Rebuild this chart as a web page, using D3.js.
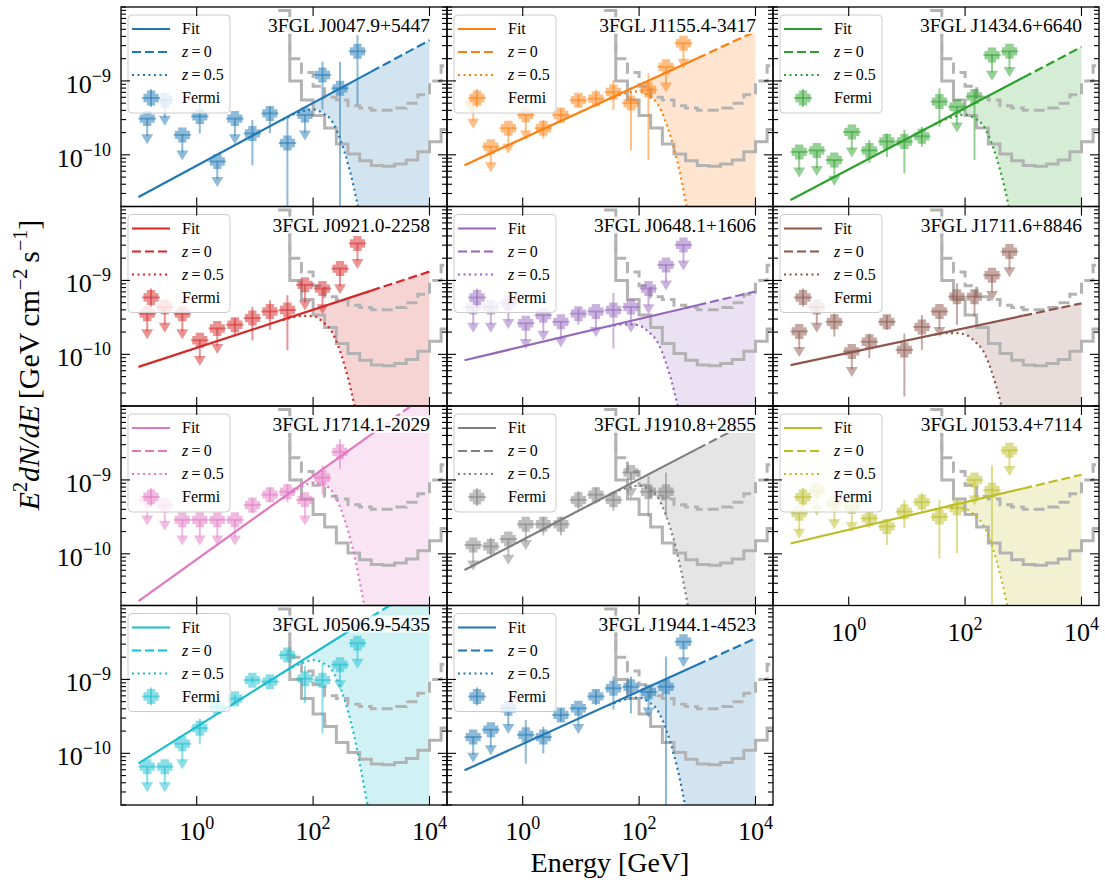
<!DOCTYPE html>
<html>
<head>
<meta charset="utf-8">
<script src="https://cdn.jsdelivr.net/npm/d3@7"></script>
<style>
    body { margin: 0; background: #fff; }
    text { font-family: "Liberation Serif", "Times New Roman", serif; }
</style>
</head>
<body>
<svg width="1105" height="886"></svg>
<script>
(function () {
    // ---- data ----
    const sourceNames = ['3FGL J0047.9+5447', '3FGL J1155.4-3417', '3FGL J1434.6+6640',
        '3FGL J0921.0-2258', '3FGL J0648.1+1606', '3FGL J1711.6+8846',
        '3FGL J1714.1-2029', '3FGL J1910.8+2855', '3FGL J0153.4+7114',
        '3FGL J0506.9-5435', '3FGL J1944.1-4523'];
    const sourceColors = ['#1f77b4', '#ff7f0e', '#2ca02c', '#d62728', '#9467bd', '#8c564b',
        '#e377c2', '#7f7f7f', '#bcbd22', '#17becf', '#1f77b4'];

    // power-law fit: log10(E^2 dN/dE) at 0.1 GeV and slope per decade
    const fitLogNorm = [-10.57, -10.14, -10.61, -10.17, -10.08, -10.145, -10.64, -10.22, -9.86, -10.135, -10.23];
    const fitSlope = [0.424, 0.362, 0.414, 0.258, 0.186, 0.167, 0.564, 0.41, 0.186, 0.495, 0.357];

    // Fermi-LAT bins (GeV)
    const fermiEnergy = [0.141, 0.283, 0.566, 1.13, 2.26, 4.53, 9.05, 18.1, 36.2, 72.4, 145, 290, 579];
    const fermiLogFlux = [
        [-9.51, -9.26, -9.73, -9.48, -10.09, -9.51, -9.71, -9.44, -9.84, -9.46, -8.92, -9.10, -8.60],
        [-9.30, -9.89, -9.64, -9.46, -9.64, -9.46, -9.26, -9.24, -9.15, -9.30, -9.12, -8.81, -8.49],
        [-9.96, -9.94, -10.07, -9.69, -9.94, -9.82, -9.82, -9.75, -9.28, -9.35, -9.21, -8.65, -8.60],
        [-9.45, -9.36, -9.45, -9.81, -9.65, -9.60, -9.51, -9.42, -9.40, -9.06, -9.11, -8.84, -8.50],
        [-9.36, -9.36, -9.31, -9.58, -9.47, -9.56, -9.45, -9.42, -9.40, -9.36, -9.11, -8.79, -8.52],
        [-9.69, -9.36, -9.56, -9.96, -9.83, -9.56, -9.94, -9.63, -9.42, -9.22, -9.22, -8.93, -8.61],
        [-9.27, -9.34, -9.54, -9.54, -9.54, -9.54, -9.34, -9.20, -9.16, -9.27, -8.97, -8.62, null],
        [-9.88, -9.90, -9.80, -9.60, -9.60, -9.60, -9.27, -9.20, -9.27, -8.90, -9.16, -9.16, null],
        [-9.45, -9.14, -9.32, -9.36, -9.52, -9.63, -9.43, -9.30, -9.50, -9.38, -9.00, -9.14, -8.60],
        [-10.18, -10.18, -9.87, -9.66, -9.37, -9.26, -9.01, -9.03, -8.67, -8.99, -9.01, -8.80, -8.51],
        [-9.78, -9.68, -9.39, -9.75, -9.78, -9.48, -9.39, -9.23, -9.12, -9.10, -9.17, -9.10, -8.49]
    ];
    // 1 = upper limit
    const fermiUpper = [
        [1, 1, 1, 0, 1, 1, 0, 0, 0, 1, 0, 0, 0],
        [1, 1, 1, 1, 0, 0, 0, 0, 0, 0, 0, 1, 1],
        [1, 1, 1, 1, 0, 0, 0, 0, 0, 1, 0, 1, 1],
        [1, 1, 1, 1, 1, 0, 0, 0, 0, 1, 1, 1, 1],
        [1, 1, 1, 1, 1, 1, 0, 1, 0, 1, 1, 1, 1],
        [1, 1, 0, 1, 0, 0, 0, 0, 1, 0, 0, 1, 1],
        [1, 1, 1, 1, 1, 1, 0, 0, 0, 1, 0, 0, 0],
        [1, 0, 1, 1, 0, 0, 0, 0, 0, 1, 0, 0, 0],
        [1, 1, 1, 1, 0, 0, 0, 0, 0, 0, 1, 0, 1],
        [1, 1, 1, 0, 0, 0, 0, 0, 0, 0, 0, 1, 1],
        [1, 1, 1, 0, 0, 0, 1, 0, 0, 0, 1, 0, 1]
    ];
    const fermiErrHigh = [
        [null, null, null, -9.26, null, null, -9.53, -9.35, -9.50, null, -8.74, -8.74, -8.38],
        [null, null, null, null, -9.53, -9.37, -9.19, -9.12, -8.99, -9.08, -8.90, null, null],
        [null, null, null, null, -9.80, -9.71, -9.66, -9.62, -9.10, null, -9.12, null, null],
        [null, null, null, null, null, -9.51, -9.36, -9.27, -9.20, null, null, null, null],
        [null, null, null, null, null, null, -9.38, null, -9.17, null, null, null, null],
        [null, null, -9.45, null, -9.72, -9.47, -9.72, -9.47, null, -9.04, -9.13, null, null],
        [null, null, null, null, null, null, -9.25, -9.10, -9.05, null, -8.80, -8.45, null],
        [null, -9.78, null, null, -9.50, -9.50, -9.15, -9.10, -9.15, null, -8.95, -8.90, null],
        [null, null, null, null, -9.41, -9.54, -9.27, -9.18, -9.27, -9.25, null, -8.80, null],
        [null, null, null, -9.53, -9.32, -9.21, -8.97, -8.98, -8.60, -8.82, -8.78, null, null],
        [null, null, null, -9.55, -9.64, -9.39, null, -9.14, -8.96, -8.96, null, -8.69, null]
    ];
    const fermiErrLow = [
        [null, null, null, -9.71, null, null, -10.14, -9.71, -11.5, null, -9.39, -11.5, -9.32],
        [null, null, null, null, -9.78, -9.57, -9.35, -9.35, -9.39, -9.94, -10.07, null, null],
        [null, null, null, null, -10.11, -10.03, -10.25, -9.89, -9.62, null, -10.07, null, null],
        [null, null, null, null, null, -9.76, -9.81, -9.67, -9.94, null, null, null, null],
        [null, null, null, null, null, null, -9.60, null, -9.92, null, null, null, null],
        [null, null, -9.76, null, -10.05, -9.67, -10.57, -9.94, null, -9.60, -9.49, null, null],
        [null, null, null, null, null, null, -9.45, -9.30, -9.30, null, -9.20, -8.85, null],
        [null, -10.05, null, null, -9.75, -9.75, -9.40, -9.32, -9.42, null, -9.50, -9.50, null],
        [null, null, null, null, -9.65, -9.88, -9.65, -9.43, -10.06, -9.99, null, -11.5, null],
        [null, null, null, -9.87, -9.42, -9.31, -9.05, -9.08, -8.74, -9.32, -9.73, null, null],
        [null, null, null, -10.14, -10.0, -9.57, null, -9.35, -9.41, -9.46, null, -11.5, null]
    ];

    // EBL optical depth for z = 0.5
    const tauEnergy = [30, 50, 70, 100, 150, 200, 300, 400, 500, 700, 1000, 2000, 5000, 10000];
    const tauValue = [0.01, 0.04, 0.1, 0.2, 0.5, 0.8, 1.65, 2.5, 3.3, 4.8, 6.5, 10, 20, 30];

    // sensitivity curves (step per bin, bins start at these edges)
    const sensEdges = [25.1, 39.8, 63.1, 100, 158, 251, 398, 631, 1000, 1585, 2512, 3981, 6310, 10000, 15849, 25119];
    const sensSolid = [9e-9, 1.0e-9, 5.5e-10, 3.4e-10, 2.3e-10, 1.4e-10, 1.03e-10, 8.3e-11, 7.2e-11,
        7.0e-11, 7.5e-11, 8.5e-11, 1.1e-10, 1.5e-10, 2.2e-10];
    const sensDashed = [null, 2.0e-9, 1.3e-9, 8.5e-10, 6e-10, 5.5e-10, 4.6e-10, 4.3e-10, 4.0e-10,
        4.0e-10, 4.3e-10, 5e-10, 6.5e-10, 1.0e-9, 1.6e-9];
    const sensDashedStart = 5.5e-9;

    const xTickValues = [1, 100, 10000];
    const xTickLabels = ['0', '2', '4'];
    const yTickValues = [1e-10, 1e-9];
    const yTickLabels = ['\u221210', '\u22129'];

    // ---- layout ----
    const left = 121, right = 1099, top = 7, bottom = 805;
    const panelW = (right - left) / 3;
    const panelH = (bottom - top) / 4;

    const svg = d3.select('svg');

    const x = d3.scaleLog().domain([0.05, 2e4]).range([0, panelW]);
    const y = d3.scaleLog().domain([2e-11, 1e-8]).range([panelH, 0]);

    const fitAt = (i, e) => Math.pow(10, fitLogNorm[i] + fitSlope[i] * (Math.log10(e) + 1));
    const tauAt = k => Math.exp(-tauValue[k]);

    const line = d3.line().x(d => x(d[0])).y(d => y(d[1]));

    const plusPath = s => {
        const a = s / 6;
        return `M${-a},${-3 * a}L${-a},${-a}L${-3 * a},${-a}L${-3 * a},${a}L${-a},${a}L${-a},${3 * a}` +
            `L${a},${3 * a}L${a},${a}L${3 * a},${a}L${3 * a},${-a}L${a},${-a}L${a},${-3 * a}Z`;
    };

    const drawMarker = (g, cx, cy, color) => {
        g.append('path')
            .attr('d', plusPath(10))
            .attr('transform', `translate(${cx},${cy})`)
            .attr('fill', color)
            .attr('stroke', color)
            .attr('stroke-width', 5)
            .attr('stroke-linejoin', 'miter')
            .attr('opacity', 0.5);
    };

    const errLine = (g, x1, y1, x2, y2, color) => {
        g.append('line')
            .attr('x1', x1).attr('y1', y1).attr('x2', x2).attr('y2', y2)
            .attr('stroke', color)
            .attr('stroke-width', 2)
            .attr('opacity', 0.5);
    };

    const stepPts = vals => {
        const pts = vals.map((v, k) => [sensEdges[k], v]);
        pts.push([sensEdges[vals.length], vals[vals.length - 1]]);
        return pts.filter(d => d[1] !== null);
    };
    const solidPts = stepPts(sensSolid);
    const dashedPts = stepPts(sensDashed);
    dashedPts.unshift([dashedPts[0][0], sensDashedStart]);

    const stepLine = d3.line()
            .x(d => x(d[0])).y(d => y(d[1]))
            .curve(d3.curveStepAfter);

    sourceNames.forEach((name, i) => {
        const col = i % 3, row = Math.floor(i / 3);
        const color = sourceColors[i];
        const g = svg.append('g')
                .attr('transform', `translate(${left + col * panelW},${top + row * panelH})`);

        g.append('clipPath').attr('id', 'clip' + i)
            .append('rect')
            .attr('width', panelW)
            .attr('height', panelH);
        const inner = g.append('g').attr('clip-path', `url(#clip${i})`);

        // shaded band between z=0 and z=0.5 above 100 GeV
        const bandIdx = tauEnergy.map((e, k) => k).filter(k => tauEnergy[k] >= 100);
        inner.append('path')
            .datum(bandIdx)
            .attr('d', d3.area()
                    .x(k => x(tauEnergy[k]))
                    .y0(k => Math.min(panelH + 50, y(fitAt(i, tauEnergy[k]) * tauAt(k))))
                    .y1(k => y(fitAt(i, tauEnergy[k])))
                    .curve(d3.curveMonotoneX))
            .attr('fill', color)
            .attr('fill-opacity', 0.2);

        // sensitivity steps
        inner.append('path')
            .attr('d', stepLine(solidPts))
            .attr('fill', 'none')
            .attr('stroke', '#b3b3b3')
            .attr('stroke-width', 3);
        inner.append('path')
            .attr('d', stepLine(dashedPts))
            .attr('fill', 'none')
            .attr('stroke', '#b3b3b3')
            .attr('stroke-width', 3)
            .attr('stroke-dasharray', '11,5');

        // fit lines
        inner.append('path')
            .attr('d', line([[1000, fitAt(i, 1000)], [10000, fitAt(i, 10000)]]))
            .attr('fill', 'none')
            .attr('stroke', color)
            .attr('stroke-width', 2.2)
            .attr('stroke-dasharray', '9,4');
        inner.append('path')
            .attr('d', line([[0.1, fitAt(i, 0.1)], [1000, fitAt(i, 1000)]]))
            .attr('fill', 'none')
            .attr('stroke', color)
            .attr('stroke-width', 2.2);
        inner.append('path')
            .attr('d', d3.line()
                    .x(k => x(tauEnergy[k]))
                    .y(k => y(fitAt(i, tauEnergy[k]) * tauAt(k)))
                    .curve(d3.curveMonotoneX)(tauEnergy.map((e, k) => k)))
            .attr('fill', 'none')
            .attr('stroke', color)
            .attr('stroke-width', 2.2)
            .attr('stroke-dasharray', '2,3.5');

        // Fermi points
        const pts = inner.append('g');
        fermiEnergy.forEach((e, k) => {
            const lf = fermiLogFlux[i][k];
            if (lf === null) {
                return;
            }
            const cx = x(e), cy = y(Math.pow(10, lf));
            errLine(pts, x(e / Math.SQRT2), cy, x(e * Math.SQRT2), cy, color);
            if (fermiUpper[i][k]) {
                const tip = y(Math.pow(10, lf) * 0.45);
                errLine(pts, cx, cy, cx, tip - 8, color);
                pts.append('path')
                    .attr('d', `M${cx - 6},${tip - 10}L${cx + 6},${tip - 10}L${cx},${tip}Z`)
                    .attr('fill', color)
                    .attr('opacity', 0.5);
            } else {
                errLine(pts, cx, y(Math.pow(10, fermiErrHigh[i][k])),
                        cx, y(Math.pow(10, fermiErrLow[i][k])), color);
            }
            drawMarker(pts, cx, cy, color);
        });

        // title
        const title = g.append('text')
                .attr('x', panelW - 17)
                .attr('y', 25)
                .attr('text-anchor', 'end')
                .attr('font-size', 19.5)
                .text(name);
        const bb = title.node().getBBox();
        g.insert('rect', () => title.node())
            .attr('x', bb.x - 1).attr('y', bb.y + 2)
            .attr('width', bb.width + 2).attr('height', bb.height - 4)
            .attr('fill', '#fff')
            .attr('opacity', 0.8);

        // legend
        const lg = g.append('g').attr('transform', 'translate(7,8)');
        lg.append('rect')
            .attr('width', 102).attr('height', 98)
            .attr('rx', 4)
            .attr('fill', '#fff').attr('fill-opacity', 0.8)
            .attr('stroke', '#cccccc').attr('stroke-width', 1);
        const rowsY = [14, 37, 60, 83];
        const dashes = [null, '9,4', '2,3.5'];
        dashes.forEach((dash, r) => {
            lg.append('line')
                .attr('x1', 4).attr('x2', 42)
                .attr('y1', rowsY[r]).attr('y2', rowsY[r])
                .attr('stroke', color)
                .attr('stroke-width', 2.2)
                .attr('stroke-dasharray', dash);
        });
        errLine(lg, 14, rowsY[3], 32, rowsY[3], color);
        errLine(lg, 23, rowsY[3] - 9, 23, rowsY[3] + 9, color);
        drawMarker(lg, 23, rowsY[3], color);
        const labels = [['', 'Fit'], ['z', '\u2009=\u20090'], ['z', '\u2009=\u20090.5'], ['', 'Fermi']];
        labels.forEach((lab, r) => {
            const t = lg.append('text')
                    .attr('x', 54)
                    .attr('y', rowsY[r] + 5)
                    .attr('font-size', 16);
            if (lab[0]) {
                t.append('tspan').attr('font-style', 'italic').text(lab[0]);
            }
            t.append('tspan').text(lab[1]);
        });

        // frame and ticks
        g.append('rect')
            .attr('width', panelW).attr('height', panelH)
            .attr('fill', 'none')
            .attr('stroke', '#000')
            .attr('stroke-width', 1.3);
        const tk = g.append('g').attr('stroke', '#000').attr('stroke-width', 1.1);
        xTickValues.forEach(v => {
            tk.append('line').attr('x1', x(v)).attr('x2', x(v)).attr('y1', panelH).attr('y2', panelH - 9);
            tk.append('line').attr('x1', x(v)).attr('x2', x(v)).attr('y1', 0).attr('y2', 9);
        });
        y.ticks().forEach(v => {
            const major = yTickValues.some(m => Math.abs(m - v) / m < 1e-6);
            const len = major ? 9 : 5;
            tk.append('line').attr('x1', 0).attr('x2', len).attr('y1', y(v)).attr('y2', y(v));
            tk.append('line').attr('x1', panelW).attr('x2', panelW - len).attr('y1', y(v)).attr('y2', y(v));
        });

        // tick labels
        if (i + 3 >= sourceNames.length) {
            xTickValues.forEach((v, k) => {
                const t = g.append('text')
                        .attr('x', x(v))
                        .attr('y', panelH + 35)
                        .attr('text-anchor', 'middle')
                        .attr('font-size', 26);
                t.append('tspan').text('10');
                t.append('tspan').attr('dy', -11).attr('font-size', 18).text(xTickLabels[k]);
            });
        }
        if (col === 0) {
            yTickValues.forEach((v, k) => {
                const t = g.append('text')
                        .attr('x', -10)
                        .attr('y', y(v) + 12)
                        .attr('text-anchor', 'end')
                        .attr('font-size', 26);
                t.append('tspan').text('10');
                t.append('tspan').attr('dy', -11).attr('font-size', 18).text(yTickLabels[k]);
            });
        }
    });

    // axis titles
    svg.append('text')
        .attr('x', (left + right) / 2)
        .attr('y', 872)
        .attr('text-anchor', 'middle')
        .attr('font-size', 28)
        .text('Energy [GeV]');

    const yl = svg.append('text')
            .attr('transform', 'translate(38.5,365) rotate(-90)')
            .attr('text-anchor', 'middle')
            .attr('font-size', 30);
    yl.append('tspan').attr('font-style', 'italic').text('E');
    yl.append('tspan').attr('dy', -12).attr('font-size', 20).text('2');
    yl.append('tspan').attr('dy', 12).attr('font-style', 'italic').text('dN/dE');
    yl.append('tspan').text('\u2009[GeV\u2009cm');
    yl.append('tspan').attr('dy', -12).attr('font-size', 20).text('\u22122');
    yl.append('tspan').attr('dy', 12).text('\u2009s');
    yl.append('tspan').attr('dy', -12).attr('font-size', 20).text('\u22121');
    yl.append('tspan').attr('dy', 12).text(']');
})();
</script>
</body>
</html>
